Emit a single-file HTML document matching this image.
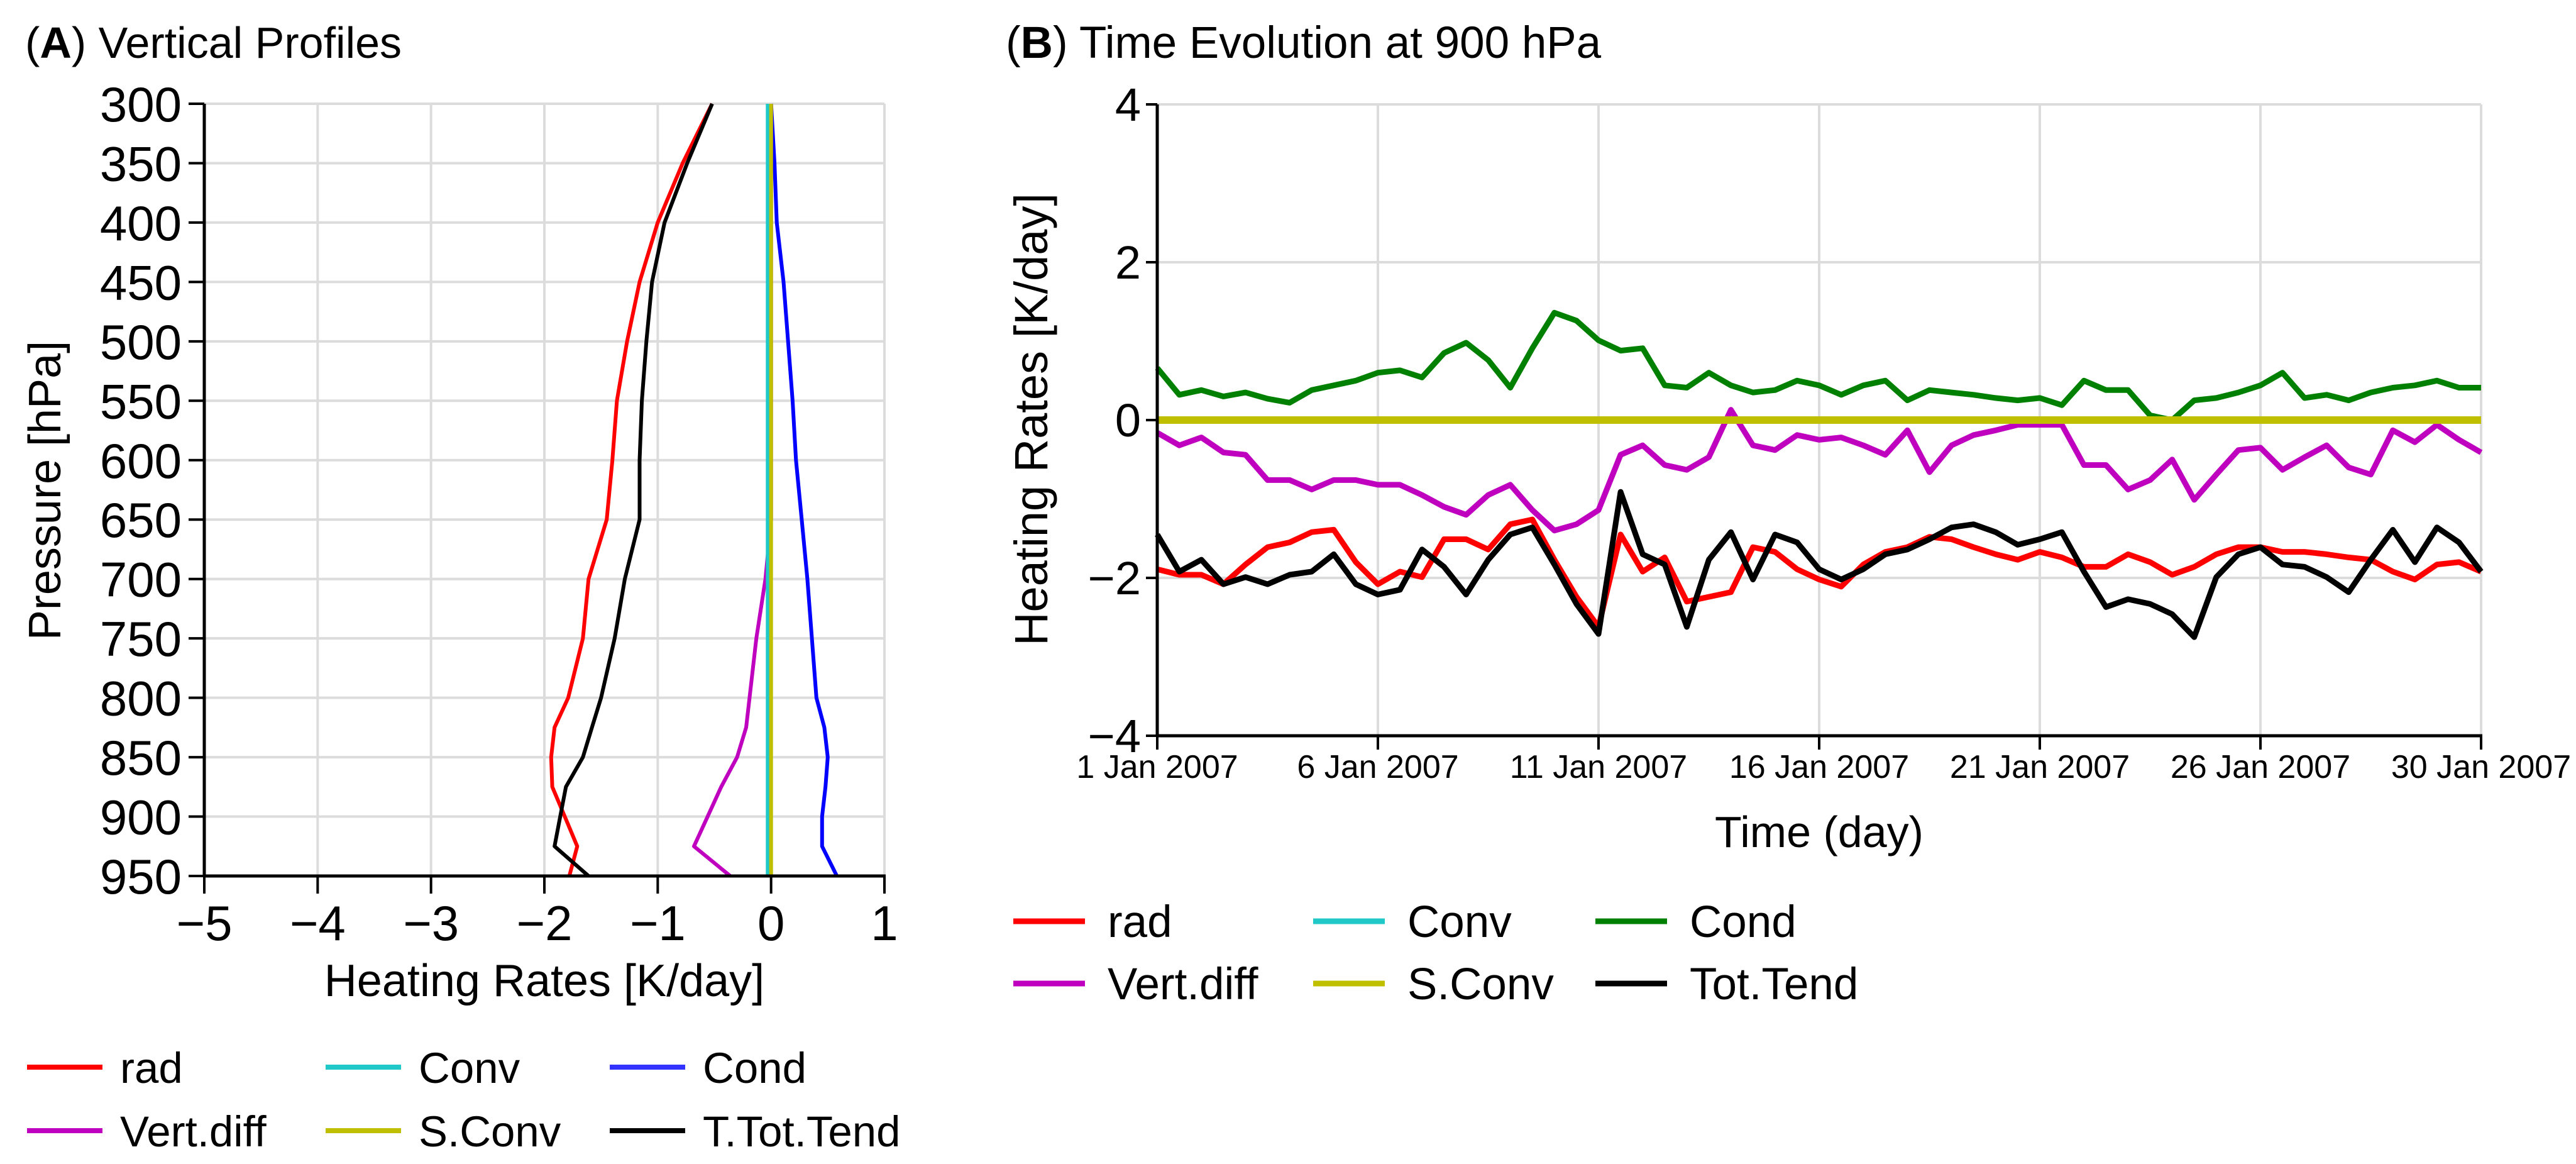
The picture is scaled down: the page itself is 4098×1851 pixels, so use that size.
<!DOCTYPE html>
<html><head><meta charset="utf-8">
<style>
html,body{margin:0;padding:0;background:#fff;}
svg{display:block;font-family:"Liberation Sans",Arial,sans-serif;}
</style></head>
<body>
<svg id="fig" width="4098" height="1851" viewBox="0 0 4098 1851" xmlns="http://www.w3.org/2000/svg">
<rect width="4098" height="1851" fill="#fff"/>
<text x="40" y="92" font-size="70">(<tspan font-weight="bold">A</tspan>) Vertical Profiles</text>
<text x="1600" y="92" font-size="71">(<tspan font-weight="bold">B</tspan>) Time Evolution at 900 hPa</text>
<g id="pa"></g>
<g id="pb"></g>
</svg>
<script>
// ---------- Panel A data ----------
const levelsA = [300,350,400,450,500,550,600,650,700,750,800,825,850,875,900,925,950];
const radA    = [-0.52,-0.78,-1.0,-1.16,-1.27,-1.36,-1.40,-1.45,-1.61,-1.66,-1.79,-1.91,-1.94,-1.93,-1.82,-1.71,-1.78];
const vdiffA  = [0,0,0,0,0,0,0,0,-0.05,-0.13,-0.19,-0.22,-0.30,-0.44,-0.56,-0.68,-0.36];
const convA   = [-0.03,-0.03,-0.03,-0.03,-0.03,-0.03,-0.03,-0.03,-0.03,-0.03,-0.03,-0.03,-0.03,-0.03,-0.03,-0.03,-0.03];
const sconvA  = [0,0,0,0,0,0,0,0,0,0,0,0,0,0,0,0,0];
const condA   = [0.0,0.03,0.05,0.11,0.15,0.19,0.22,0.27,0.32,0.36,0.40,0.47,0.50,0.48,0.45,0.45,0.58];
const totA    = [-0.52,-0.74,-0.94,-1.05,-1.10,-1.14,-1.16,-1.16,-1.29,-1.38,-1.50,-1.58,-1.66,-1.81,-1.86,-1.91,-1.61];
const xTicksA = [-5,-4,-3,-2,-1,0,1];
const yTicksA = [300,350,400,450,500,550,600,650,700,750,800,850,900,950];

// ---------- Panel B data ----------
const daysB  = [0,0.5,1,1.5,2,2.5,3,3.5,4,4.5,5,5.5,6,6.5,7,7.5,8,8.5,9,9.5,10,10.5,11,11.5,12,12.5,13,13.5,14,14.5,15,15.5,16,16.5,17,17.5,18,18.5,19,19.5,20,20.5,21,21.5,22,22.5,23,23.5,24,24.5,25,25.5,26,26.5,27,27.5,28,28.5,29,29.5,30];
const condB  = [0.66,0.32,0.38,0.30,0.35,0.27,0.22,0.38,0.44,0.50,0.60,0.63,0.54,0.85,0.98,0.76,0.41,0.91,1.36,1.26,1.01,0.88,0.91,0.44,0.41,0.60,0.44,0.35,0.38,0.50,0.44,0.32,0.44,0.50,0.25,0.38,0.35,0.32,0.28,0.25,0.28,0.19,0.50,0.38,0.38,0.06,0.0,0.25,0.28,0.35,0.44,0.60,0.28,0.32,0.25,0.35,0.41,0.44,0.50,0.41,0.41];
const vdiffB = [-0.16,-0.32,-0.22,-0.41,-0.44,-0.76,-0.76,-0.88,-0.76,-0.76,-0.82,-0.82,-0.95,-1.10,-1.20,-0.95,-0.82,-1.14,-1.40,-1.32,-1.14,-0.44,-0.32,-0.57,-0.63,-0.47,0.13,-0.32,-0.38,-0.19,-0.25,-0.22,-0.32,-0.44,-0.13,-0.66,-0.32,-0.19,-0.13,-0.06,-0.06,-0.06,-0.57,-0.57,-0.88,-0.76,-0.50,-1.01,-0.69,-0.38,-0.35,-0.63,-0.47,-0.32,-0.60,-0.69,-0.13,-0.28,-0.06,-0.25,-0.41];
const radB   = [-1.89,-1.96,-1.96,-2.08,-1.83,-1.61,-1.55,-1.42,-1.39,-1.80,-2.08,-1.92,-1.99,-1.51,-1.51,-1.64,-1.32,-1.26,-1.77,-2.24,-2.62,-1.45,-1.92,-1.74,-2.30,-2.24,-2.18,-1.61,-1.67,-1.89,-2.02,-2.11,-1.83,-1.67,-1.61,-1.48,-1.51,-1.61,-1.70,-1.77,-1.67,-1.74,-1.86,-1.86,-1.70,-1.80,-1.96,-1.86,-1.70,-1.61,-1.61,-1.67,-1.67,-1.70,-1.74,-1.77,-1.92,-2.02,-1.83,-1.80,-1.92];
const totB   = [-1.45,-1.92,-1.77,-2.08,-1.99,-2.08,-1.96,-1.92,-1.70,-2.08,-2.21,-2.15,-1.64,-1.86,-2.21,-1.77,-1.45,-1.36,-1.83,-2.33,-2.71,-0.91,-1.70,-1.83,-2.62,-1.77,-1.42,-2.02,-1.45,-1.55,-1.89,-2.02,-1.89,-1.70,-1.64,-1.51,-1.36,-1.32,-1.42,-1.58,-1.51,-1.42,-1.92,-2.37,-2.27,-2.33,-2.46,-2.75,-1.99,-1.70,-1.61,-1.83,-1.86,-1.99,-2.18,-1.77,-1.39,-1.80,-1.36,-1.55,-1.92];
const convB  = daysB.map(()=>0);
const sconvB = daysB.map(()=>0);
const xTickDaysB = [0,5,10,15,20,25,30];
const xTickLabelsB = ["1 Jan 2007","6 Jan 2007","11 Jan 2007","16 Jan 2007","21 Jan 2007","26 Jan 2007","30 Jan 2007"];
const yTicksB = [-4,-2,0,2,4];

const NS="http://www.w3.org/2000/svg";
function mk(parent,tag,attrs,text){const e=document.createElementNS(NS,tag);for(const k in attrs)e.setAttribute(k,attrs[k]);if(text!==undefined)e.textContent=text;parent.appendChild(e);return e;}
const fmt=v=>v<0?"\u2212"+Math.abs(v):String(v);

// ---------- Panel A ----------
(function(){
  const g=document.getElementById('pa');
  const L=325,R=1407,T=165,B=1393;
  const x=v=>L+(v+5)/6*(R-L);
  const y=p=>T+(p-300)/650*(B-T);
  yTicksA.forEach(p=>{const l=mk(g,'line',{x1:L,x2:R,y1:y(p),y2:y(p),stroke:'#dcdcdc','stroke-width':4});
    });
  xTicksA.forEach(v=>{const l=mk(g,'line',{x1:x(v),x2:x(v),y1:T,y2:B,stroke:'#dcdcdc','stroke-width':4});
    });
  const series=[[condA,'#0000ff','cond'],[vdiffA,'#bf00bf','vert-diff'],[radA,'#ff0000','rad'],[totA,'#000000','tot-tend'],[convA,'#20c8c8','conv'],[sconvA,'#bfbf00','s-conv']];
  series.forEach(([d,c,n])=>{
    const pts=d.map((v,i)=>x(v).toFixed(1)+','+y(levelsA[i]).toFixed(1)).join(' ');
    const pl=mk(g,'polyline',{points:pts,fill:'none',stroke:c,'stroke-width':6,'stroke-linejoin':'round'});
    
    
  });
  mk(g,'line',{x1:L,x2:L,y1:T,y2:B+2,stroke:'#000','stroke-width':5});
  mk(g,'line',{x1:L-2,x2:R+2,y1:B,y2:B,stroke:'#000','stroke-width':5});
  yTicksA.forEach(p=>{mk(g,'line',{x1:L-25,x2:L,y1:y(p),y2:y(p),stroke:'#000','stroke-width':4});
    const t=mk(g,'text',{x:L-36,y:y(p)+28,'font-size':78,'text-anchor':'end'},String(p));
    });
  xTicksA.forEach(v=>{mk(g,'line',{x1:x(v),x2:x(v),y1:B,y2:B+28,stroke:'#000','stroke-width':4});
    const t=mk(g,'text',{x:x(v),y:1495,'font-size':78,'text-anchor':'middle'},fmt(v));
    });
  const xt=mk(g,'text',{x:(L+R)/2,y:1584,'font-size':72,'text-anchor':'middle'},'Heating Rates [K/day]');
  
  const yt=mk(g,'text',{x:0,y:0,'font-size':72,'text-anchor':'middle',transform:'translate(96,780) rotate(-90)'},'Pressure [hPa]');
  
  const leg=[['rad','#ff0000',43,1697],['Conv','#20c8c8',518,1697],['Cond','#3333ff',970,1697],['Vert.diff','#bf00bf',43,1798],['S.Conv','#bfbf00',518,1798],['T.Tot.Tend','#000',970,1798]];
  leg.forEach(([lab,c,lx,ly])=>{const gg=mk(g,'g',{});
    
    mk(gg,'line',{x1:lx,x2:lx+120,y1:ly,y2:ly,stroke:c,'stroke-width':8});
    mk(gg,'text',{x:lx+148,y:ly+25,'font-size':69},lab);});
})();

// ---------- Panel B ----------
(function(){
  const g=document.getElementById('pb');
  const L=1841,R=3947,T=166,B=1170;
  const x=d=>L+d/30*(R-L);
  const y=v=>T+(4-v)/8*(B-T);
  yTicksB.forEach(v=>{const l=mk(g,'line',{x1:L,x2:R,y1:y(v),y2:y(v),stroke:'#dcdcdc','stroke-width':4});
    });
  xTickDaysB.forEach(d=>{const l=mk(g,'line',{x1:x(d),x2:x(d),y1:T,y2:B,stroke:'#dcdcdc','stroke-width':4});
    });
  const series=[[condB,'#008000','cond',9],[vdiffB,'#bf00bf','vert-diff',9],[radB,'#ff0000','rad',9],[totB,'#000000','tot-tend',9],[convB,'#20c8c8','conv',12],[sconvB,'#bfbf00','s-conv',12]];
  series.forEach(([d,c,n,w])=>{
    const pts=d.map((v,i)=>x(daysB[i]).toFixed(1)+','+y(v).toFixed(1)).join(' ');
    const pl=mk(g,'polyline',{points:pts,fill:'none',stroke:c,'stroke-width':w,'stroke-linejoin':'round'});
    
    
  });
  mk(g,'line',{x1:L,x2:L,y1:T,y2:B+2,stroke:'#000','stroke-width':5});
  mk(g,'line',{x1:L-2,x2:R+2,y1:B,y2:B,stroke:'#000','stroke-width':5});
  yTicksB.forEach(v=>{mk(g,'line',{x1:L-18,x2:L,y1:y(v),y2:y(v),stroke:'#000','stroke-width':4});
    const t=mk(g,'text',{x:L-26,y:y(v)+26,'font-size':74,'text-anchor':'end'},fmt(v));
    });
  xTickDaysB.forEach((d,i)=>{mk(g,'line',{x1:x(d),x2:x(d),y1:B,y2:B+22,stroke:'#000','stroke-width':4});
    const t=mk(g,'text',{x:x(d),y:1237,'font-size':52,'text-anchor':'middle'},xTickLabelsB[i]);
    });
  const xt=mk(g,'text',{x:(L+R)/2,y:1347,'font-size':70,'text-anchor':'middle'},'Time (day)');
  
  const yt=mk(g,'text',{x:0,y:0,'font-size':74,'text-anchor':'middle',transform:'translate(1666,667) rotate(-90)'},'Heating Rates [K/day]');
  
  const leg=[['rad','#ff0000',1612,1465],['Conv','#20c8c8',2089,1465],['Cond','#008000',2538,1465],['Vert.diff','#bf00bf',1612,1564],['S.Conv','#bfbf00',2089,1564],['Tot.Tend','#000',2538,1564]];
  leg.forEach(([lab,c,lx,ly])=>{const gg=mk(g,'g',{});
    
    mk(gg,'line',{x1:lx,x2:lx+114,y1:ly,y2:ly,stroke:c,'stroke-width':9});
    mk(gg,'text',{x:lx+150,y:ly+25,'font-size':71},lab);});
})();
</script>
</body></html>
